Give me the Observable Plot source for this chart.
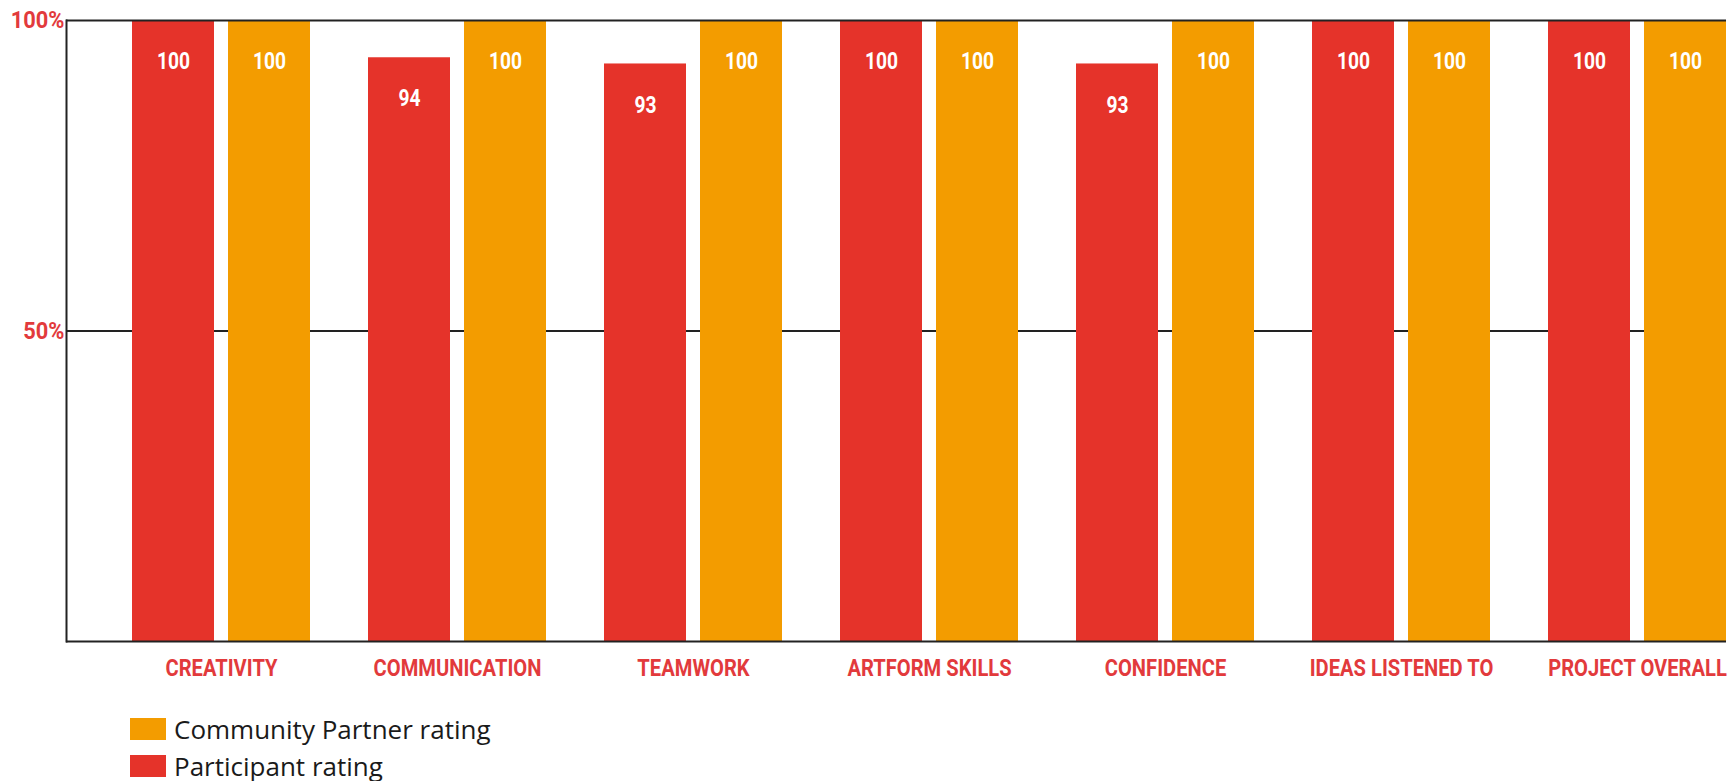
<!DOCTYPE html>
<html><head><meta charset="utf-8">
<script src="https://cdn.jsdelivr.net/npm/d3@7"></script>
<script src="https://cdn.jsdelivr.net/npm/@observablehq/plot@0.6"></script>
<style>
body{margin:0;background:#fff;overflow:hidden;}
#chart svg{display:block;}
#legend{padding-left:130px;margin-top:18px;font-family:"Open Sans",sans-serif;font-size:26px;line-height:22px;color:#1a1a1a;}
.row{display:flex;align-items:center;height:22px;margin-bottom:15px;}
.sw{width:36px;height:22px;margin-right:8px;flex:none;}
</style></head><body><div id="chart"></div><div id="legend"></div>
<script>
const categories = ["CREATIVITY","COMMUNICATION","TEAMWORK","ARTFORM SKILLS","CONFIDENCE","IDEAS LISTENED TO","PROJECT OVERALL"];
const participantRating = [100,94,93,100,93,100,100];
const communityRating = [100,100,100,100,100,100,100];
const seriesNames = ["Community Partner rating","Participant rating"];
const seriesColors = ["#f39c00","#e5332a"];
const yTickValues = [50,100];

const red = seriesColors[1], orange = seriesColors[0];
const labelRed = "#e23a3c";
const participant = categories.map((c,i)=>({category:c, value:participantRating[i]}));
const community = categories.map((c,i)=>({category:c, value:communityRating[i]}));

const textFont = {fontFamily:"Roboto", fontWeight:"bold", fontSize:24};

const svg = Plot.plot({
  width:1730, height:700,
  marginTop:20, marginBottom:59, marginLeft:66, marginRight:4,
  x:{domain:categories, paddingInner:0.2458, paddingOuter:0.132, align:1, axis:null},
  y:{domain:[0,100], axis:null},
  marks:[
    Plot.ruleY([50], {stroke:"#222", strokeWidth:2}),
    Plot.barY(participant, {x:"category", y:"value", fill:red, insetRight:96}),
    Plot.barY(community, {x:"category", y:"value", fill:orange, insetLeft:96}),
    Plot.ruleY([0,100], {stroke:"#222", strokeWidth:2}),
    Plot.frame({anchor:"left", stroke:"#222", strokeWidth:2}),
    Plot.text(participant, {x:"category", y:"value", text:d=>String(d.value), dx:-48, dy:41, fill:"white", ...textFont}),
    Plot.text(community, {x:"category", y:"value", text:d=>String(d.value), dx:48, dy:41, fill:"white", ...textFont}),
    Plot.axisX({tickSize:0, tickPadding:17, label:null, fill:labelRed, ...textFont}),
    Plot.axisY({ticks:yTickValues, tickFormat:d=>d+"%", tickSize:0, tickPadding:2, label:null, fill:labelRed, ...textFont})
  ]
});
document.getElementById("chart").appendChild(svg);

function condense(sel, k){
  d3.select(svg).selectAll(sel).each(function(){
    const t = this.getAttribute("transform") || "";
    this.setAttribute("transform", t + ` scale(${k},1)`);
  });
}
condense('g[aria-label="x-axis tick label"] text', 0.84);
condense('g[aria-label="y-axis tick label"] text', 0.91);
condense('g[aria-label="text"] text', 0.8);

const legend = document.getElementById("legend");
seriesNames.forEach((name,i)=>{
  const row = document.createElement("div"); row.className="row";
  const sw = document.createElement("div"); sw.className="sw"; sw.style.background = seriesColors[i];
  const lb = document.createElement("span"); lb.textContent = name;
  row.appendChild(sw); row.appendChild(lb); legend.appendChild(row);
});
</script></body></html>
